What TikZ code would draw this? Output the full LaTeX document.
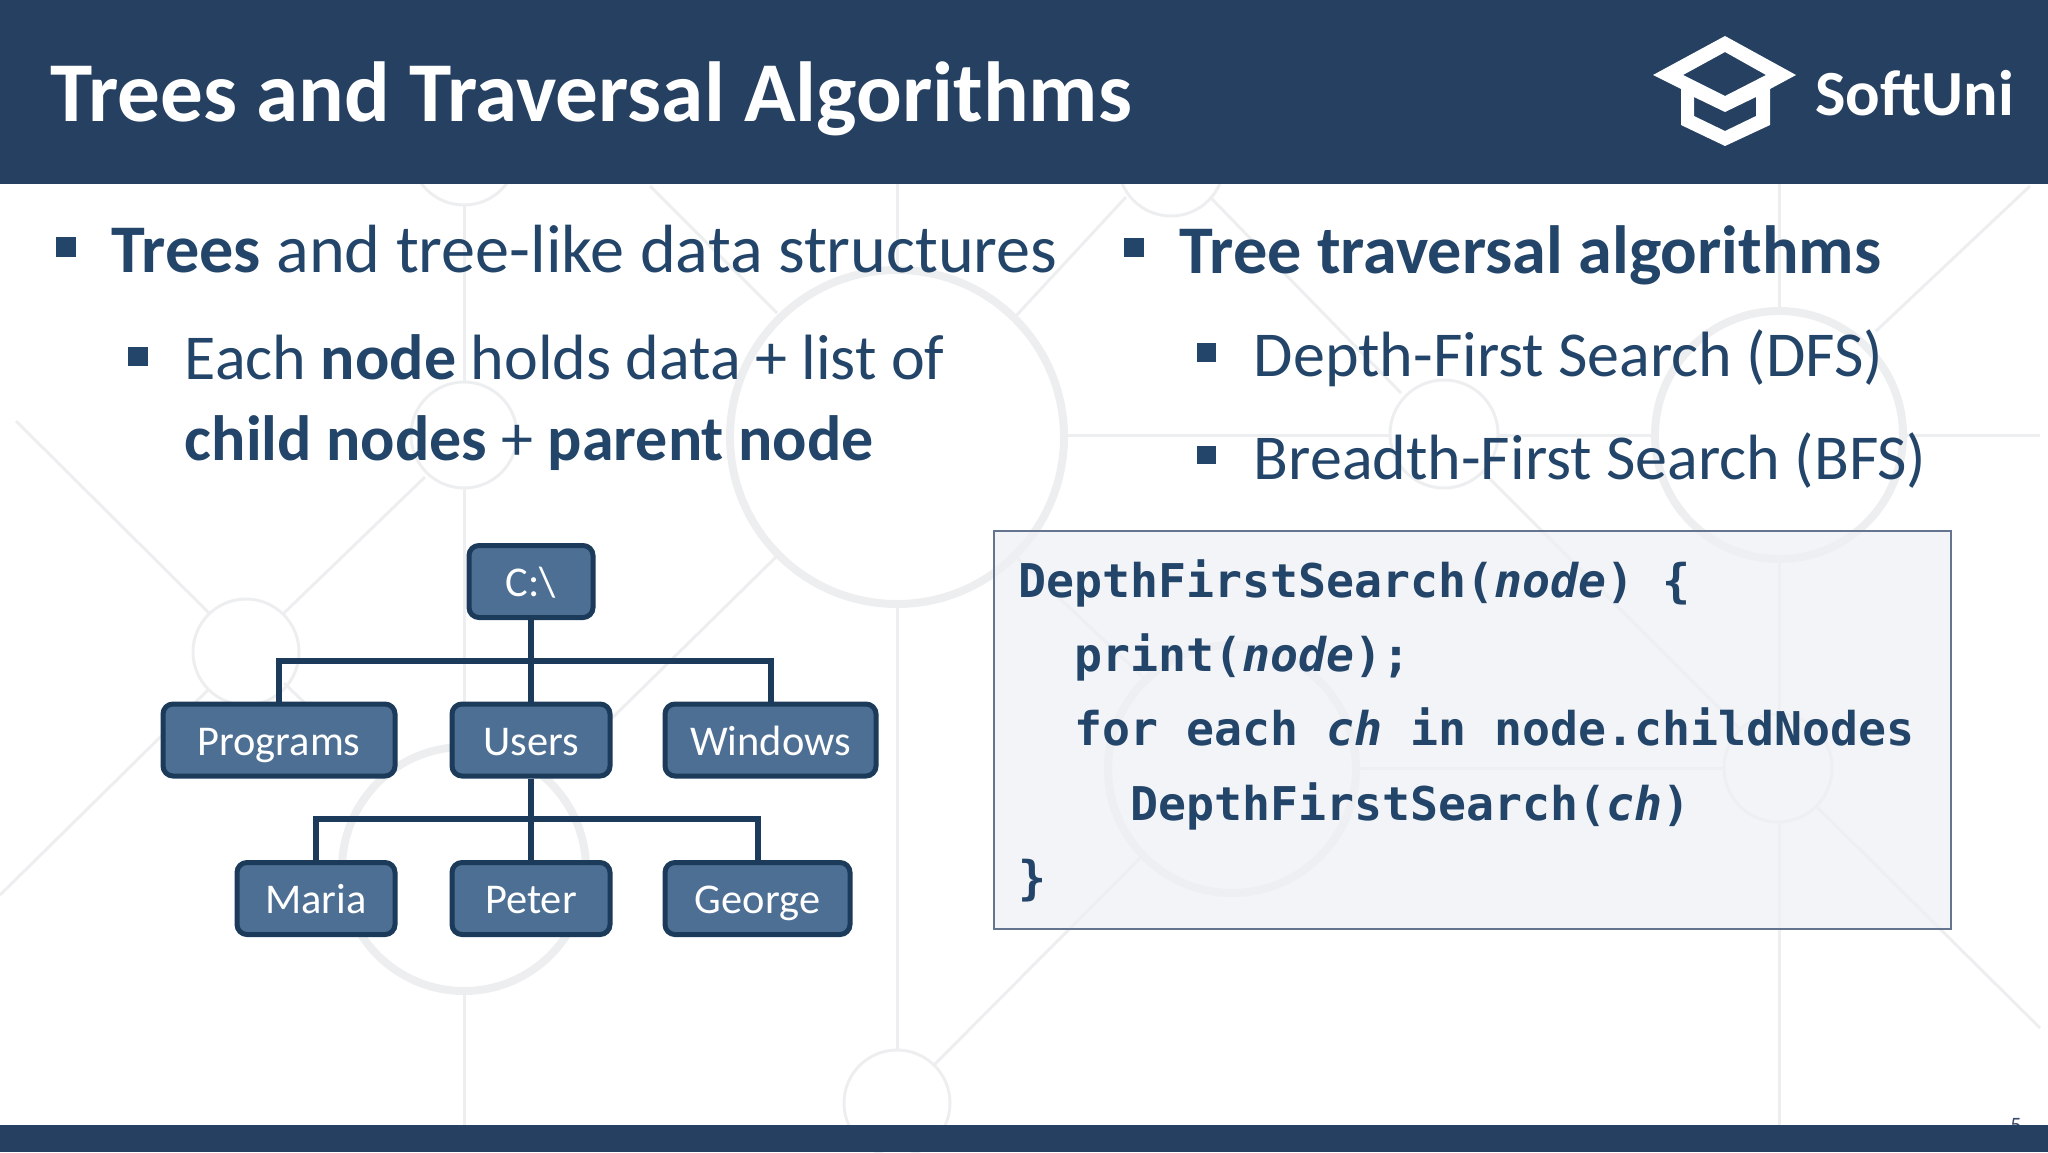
\documentclass[tikz,border=0pt]{standalone}
\usepackage{fontspec}
\usepackage{tikz}
\usetikzlibrary{positioning}
\setmainfont{Carlito}
\newfontfamily\codefont{DejaVu Sans Mono}
\definecolor{barclr}{HTML}{254061}
\definecolor{textclr}{HTML}{234569}
\definecolor{boxclr}{HTML}{4D6F94}
\definecolor{edgeclr}{HTML}{1C3A5A}
\definecolor{codeclr}{HTML}{EEF0F5}
\definecolor{frameclr}{HTML}{66758F}
\definecolor{faintclr}{HTML}{EDEEEF}
\definecolor{pageclr}{HTML}{3C4A6A}
\tikzset{
  faintline/.style={draw=faintclr,line width=1.5pt},
  faintring/.style={draw=faintclr,line width=4pt},
  barbox/.style={fill=barclr,draw=none},
  bullet/.style={fill=textclr,draw=none},
  mainline/.style={anchor=base west,inner sep=0pt,text=textclr,font=\fontsize{34.1}{40}\selectfont},
  subline/.style={mainline,font=\fontsize{32}{38}\selectfont},
  treebox/.style={draw=edgeclr,fill=boxclr,line width=2.5pt,rounded corners=5pt,text=white,
    minimum height=36pt,inner sep=0pt,text height=20pt,text depth=5pt,font=\fontsize{21.2}{25}\selectfont},
  treeline/.style={draw=edgeclr,line width=3pt},
  codeline/.style={anchor=base west,inner sep=0pt,text=textclr,
    font=\codefont\bfseries\fontsize{23.25}{28}\selectfont}
}
\begin{document}
\begin{tikzpicture}[x=0.5pt,y=-0.5pt]
\useasboundingbox (0,0) rectangle (2048,1152);
% background network
\foreach \cx/\cy/\rad in {464/152/53,464/435/53,246/652/53,897/1103/53,1171/163/53,1444/434/54,1778/768/54}
  \draw[faintline] (\cx,\cy) circle (\rad);
\foreach \cx/\cy/\rad in {897/437/167,464/869/122,1779/435/124,1232/769/124}
  \draw[faintring] (\cx,\cy) circle (\rad);
\foreach \ax/\ay/\bx/\by in {464/204/464/382,464/488/464/747,464/991/464/1125,
  897/184/897/270,897/604/897/1050,1779/184/1779/311,1779/559/1779/714,1779/822/1779/1125,
  1064/435/1390/435,1498/435/1655/435,1903/435/2040/435,1356/768/1724/768,
  16/421/209/613,284/613/425/477,209/689/0/895,284/683/366/762,
  650/186/777/313,777/556/549/780,1126/197/1014/318,1210/197/1401/393,
  1483/472/1741/730,1015/556/1146/680,1145/853/934/1065,1817/807/2040/1028,1876/331/2030/186}
  \draw[faintline] (\ax,\ay) -- (\bx,\by);
% header and footer
\node[anchor=base,inner sep=0pt,text=pageclr,font=\fontsize{11}{12}\selectfont] (pagenum) at (2016,1132) {5};
\path[barbox] (0,0) rectangle (2048,184);
\path[barbox] (0,1125) rectangle (2048,1152);
\node[anchor=base west,inner sep=0pt,text=white,font=\bfseries\fontsize{42.6}{50}\selectfont] (title) at (50,121) {Trees and Traversal Algorithms};
% logo
\path[fill=white,even odd rule] (1653,75) -- (1725,36) -- (1796,75) -- (1770,89) -- (1770,125) -- (1725,146) -- (1681,125) -- (1681,89) -- cycle
  (1683,75) -- (1725,52) -- (1766,75) -- (1725,96) -- cycle
  (1694,97) -- (1694,116) -- (1725,131) -- (1756,116) -- (1756,97) -- (1725,112) -- cycle;
\node[anchor=base west,inner sep=0pt,text=white,font=\bfseries\fontsize{32.2}{40}\selectfont] (brand) at (1815,115) {SoftUni};
% left column
\path[bullet] (56,237) rectangle (76,257);
\node[mainline] (trees) at (111,272) {\textbf{Trees} and tree-like data structures};
\path[bullet] (128,347) rectangle (148,366);
\node[subline] (each) at (184.5,379.5) {Each \textbf{node} holds data + list of};
\node[subline] (child) at (184.5,460.5) {\textbf{child nodes} + \textbf{parent node}};
% right column
\path[bullet] (1124,238) rectangle (1144,257);
\node[mainline,font=\bfseries\fontsize{34.1}{40}\selectfont] (traversal) at (1179,273) {Tree traversal algorithms};
\path[bullet] (1197,343) rectangle (1216,362);
\node[subline] (dfs) at (1253.5,376.5) {Depth-First Search (DFS)};
\path[bullet] (1197,446) rectangle (1216,464);
\node[subline] (bfs) at (1253.5,479.5) {Breadth-First Search (BFS)};
% tree
\node[treebox,minimum width=62pt] (root) at (531,581.5) {C:\textbackslash};
\node[treebox,minimum width=116pt] (programs) at (279,740) {Programs};
\node[treebox,minimum width=79pt] (users) at (531,740) {Users};
\node[treebox,minimum width=105.5pt] (windows) at (770.5,740) {Windows};
\node[treebox,minimum width=79pt] (maria) at (316,898.5) {Maria};
\node[treebox,minimum width=79pt] (peter) at (531,898.5) {Peter};
\node[treebox,minimum width=92.5pt] (george) at (757.5,898.5) {George};
\coordinate (busa) at (531,661);
\coordinate (busb) at (531,819);
\draw[treeline] (root) -- (users);
\draw[treeline] (programs.north) |- (busa) -| (windows.north);
\draw[treeline] (users) -- (peter);
\draw[treeline] (maria.north) |- (busb) -| (george.north);
% code
\node[anchor=north west,draw=frameclr,line width=1pt,fill=codeclr,fill opacity=0.75,minimum width=478.5pt,minimum height=199pt,inner sep=0pt] (codebox) at (993,530) {};
\node[codeline] (codea) at (1018,597) {DepthFirstSearch(\textit{node}) \{};
\node[codeline] (codeb) at (1074,671) {print(\textit{node});};
\node[codeline] (codec) at (1074,745) {for each \textit{ch} in node.childNodes};
\node[codeline] (coded) at (1130,820) {DepthFirstSearch(\textit{ch})};
\node[codeline] (codee) at (1018,894) {\}};
\end{tikzpicture}
\end{document}
